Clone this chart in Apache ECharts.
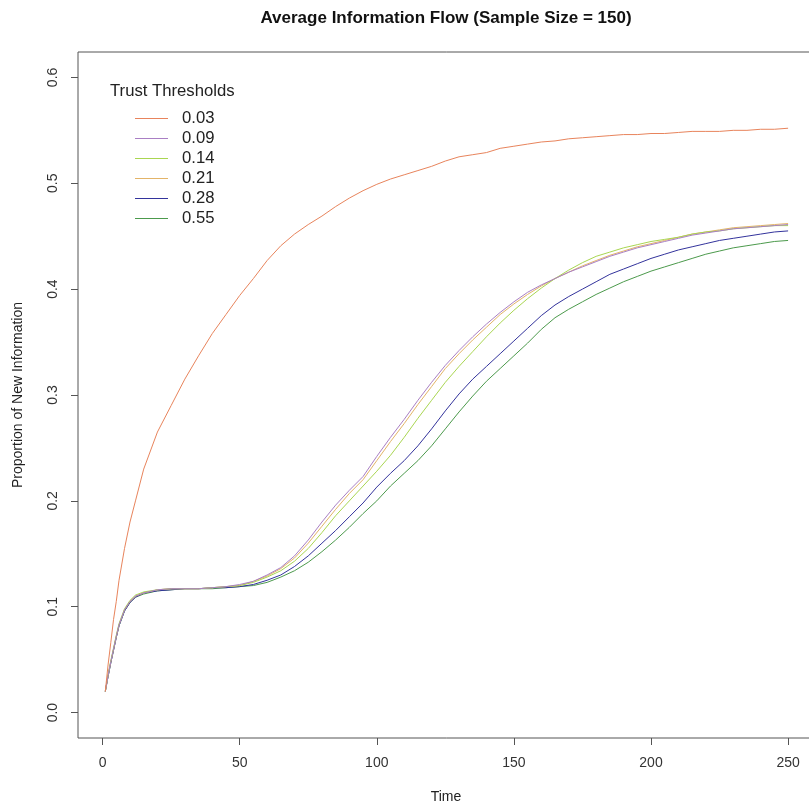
<!DOCTYPE html>
<html>
<head>
<meta charset="utf-8">
<script src="https://cdn.jsdelivr.net/npm/echarts@6/dist/echarts.min.js"></script>
<style>
html,body{margin:0;padding:0;background:#fff;overflow:hidden;width:809px;height:806px;}
#chart{width:816px;height:806px;}
</style>
</head>
<body>
<div id="chart"></div>
<script>
// Time points (x values)
var times = [1,2,3,4,5,6,8,10,12,15,20,25,30,35,40,45,50,55,60,65,70,75,80,85,90,95,100,105,110,115,120,125,130,135,140,145,150,155,160,165,170,175,180,185,190,195,200,205,210,215,220,225,230,235,240,245,250];

var seriesNames = ['0.03','0.09','0.14','0.21','0.28','0.55'];

var s003 = [0.020,0.045,0.066,0.088,0.105,0.125,0.155,0.180,0.200,0.230,0.265,0.290,0.315,0.337,0.358,0.376,0.394,
  0.410,0.427,0.441,0.452,0.461,0.469,0.478,0.486,0.493,0.499,0.504,0.508,0.512,0.516,0.521,0.525,0.527,0.529,0.533,0.535,
  0.537,0.539,0.540,0.542,0.543,0.544,0.545,0.546,0.546,0.547,0.547,0.548,0.549,0.549,0.549,0.550,0.550,0.551,0.551,0.552];

var s009 = [0.020,0.035,0.048,0.060,0.072,0.083,0.097,0.105,0.110,0.113,0.116,0.117,0.117,0.117,0.118,0.119,0.121,
  0.124,0.130,0.137,0.148,0.163,0.180,0.196,0.210,0.223,0.242,
  0.260,0.277,0.295,0.312,0.328,0.342,0.355,0.367,0.378,0.388,
  0.397,0.404,0.410,0.416,0.421,0.426,0.431,0.435,0.439,0.442,
  0.445,0.448,0.451,0.453,0.455,0.457,0.458,0.459,0.460,0.461];

var s014 = [0.020,0.036,0.049,0.061,0.073,0.084,0.098,0.106,0.111,0.114,0.116,0.117,0.117,0.117,0.118,0.119,0.120,
  0.123,0.128,0.134,0.143,0.155,0.170,0.186,0.200,0.214,0.228,
  0.243,0.260,0.278,0.295,0.312,0.327,0.341,0.355,0.368,0.380,
  0.391,0.401,0.410,0.418,0.425,0.431,0.435,0.439,0.442,0.445,
  0.447,0.449,0.452,0.454,0.455,0.457,0.458,0.459,0.460,0.460];

var s021 = [0.020,0.035,0.048,0.060,0.072,0.083,0.097,0.105,0.110,0.113,0.116,0.117,0.117,0.117,0.118,0.119,0.120,
  0.124,0.129,0.136,0.146,0.160,0.176,0.192,0.207,0.220,0.238,
  0.256,0.273,0.291,0.308,0.325,0.339,0.352,0.364,0.376,0.386,
  0.395,0.403,0.410,0.416,0.422,0.427,0.432,0.436,0.440,0.443,
  0.446,0.449,0.452,0.454,0.456,0.458,0.459,0.460,0.461,0.462];

var s028 = [0.020,0.034,0.047,0.059,0.071,0.082,0.096,0.104,0.109,0.113,0.115,0.116,0.117,0.117,0.118,0.118,0.119,
  0.121,0.125,0.130,0.138,0.148,0.160,0.172,0.185,0.198,0.213,
  0.226,0.238,0.252,0.268,0.285,0.301,0.315,0.327,0.339,0.351,
  0.363,0.375,0.385,0.393,0.400,0.407,0.414,0.419,0.424,0.429,
  0.433,0.437,0.440,0.443,0.446,0.448,0.450,0.452,0.454,0.455];

var s055 = [0.020,0.034,0.047,0.059,0.071,0.082,0.096,0.104,0.109,0.112,0.115,0.116,0.117,0.117,0.117,0.118,0.119,
  0.120,0.123,0.128,0.134,0.142,0.152,0.163,0.175,0.188,0.200,
  0.214,0.226,0.238,0.252,0.268,0.284,0.299,0.313,0.325,0.337,
  0.349,0.362,0.373,0.381,0.388,0.395,0.401,0.407,0.412,0.417,
  0.421,0.425,0.429,0.433,0.436,0.439,0.441,0.443,0.445,0.446];

var seriesValues = [s003, s009, s014, s021, s028, s055];
var seriesColors = ['#E8845C','#A97FC4','#A9D651','#E3B468','#33339C','#4C9A4C'];

var xTicks = [0,50,100,150,200,250];
var yTicks = [0,0.1,0.2,0.3,0.4,0.5,0.6];

var chart = echarts.init(document.getElementById('chart'), null, {renderer:'canvas'});

var series = seriesNames.map(function(name, i){
  return {
    name: name,
    type: 'line',
    symbol: 'none',
    smooth: false,
    color: seriesColors[i],
    lineStyle: {width: 1, color: seriesColors[i]},
    itemStyle: {color: seriesColors[i]},
    data: times.map(function(t, j){ return [t, seriesValues[i][j]]; }),
    z: 6 - i
  };
});

var fontFam = '"Liberation Sans", Arial, Helvetica, sans-serif';

chart.setOption({
  animation: false,
  backgroundColor: '#ffffff',
  color: seriesColors,
  grid: {left: 78, top: 52, right: 0.6, bottom: 68, show: true, borderColor: '#555', borderWidth: 1, backgroundColor: 'transparent'},
  xAxis: {
    type: 'value', min: -8.96, max: 259.96,
    axisLine: {show: false, onZero: false},
    splitLine: {show: false},
    axisTick: {show: true, length: 7, lineStyle: {color: '#555'}, customValues: xTicks},
    axisLabel: {customValues: xTicks, margin: 18, fontSize: 14, color: '#333', fontFamily: fontFam}
  },
  yAxis: {
    type: 'value', min: -0.024, max: 0.624,
    axisLine: {show: false, onZero: false},
    splitLine: {show: false},
    axisTick: {show: true, length: 7, lineStyle: {color: '#555'}, customValues: yTicks},
    axisLabel: {customValues: yTicks, rotate: 90, margin: 18, fontSize: 14, color: '#333', fontFamily: fontFam,
      formatter: function(v){ return v.toFixed(1); }}
  },
  legend: {
    data: seriesNames,
    orient: 'vertical',
    left: 135, top: 110, padding: 0,
    icon: 'rect',
    itemWidth: 33, itemHeight: 1, itemGap: 3,
    textStyle: {fontSize: 16.7, lineHeight: 14, color: '#222', fontFamily: fontFam, padding: [0,0,0,9]}
  },
  graphic: [
    {type: 'text', x: 446, y: 18, style: {text: 'Average Information Flow (Sample Size = 150)', textAlign: 'center', textVerticalAlign: 'middle', font: 'bold 17px ' + fontFam, fill: '#111'}},
    {type: 'text', x: 446, y: 797, style: {text: 'Time', textAlign: 'center', textVerticalAlign: 'middle', font: '14px ' + fontFam, fill: '#222'}},
    {type: 'text', x: 18, y: 395, rotation: Math.PI/2, style: {text: 'Proportion of New Information', textAlign: 'center', textVerticalAlign: 'middle', font: '14px ' + fontFam, fill: '#222'}},
    {type: 'text', x: 110, y: 91, style: {text: 'Trust Thresholds', textAlign: 'left', textVerticalAlign: 'middle', font: '16.7px ' + fontFam, fill: '#222'}}
  ],
  series: series
});
</script>
</body>
</html>
